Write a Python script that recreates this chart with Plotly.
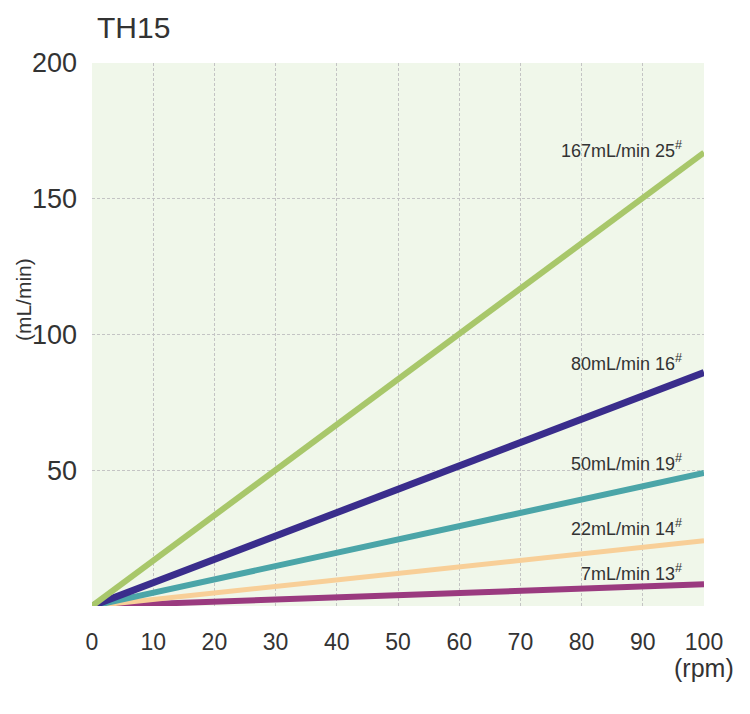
import plotly.graph_objects as go

# rpm on the x axis, flow at 100 rpm for each hose
rpm = [0, 100]
flow_end = [167, 86, 49, 24, 8]
labels = ['167mL/min 25', '80mL/min 16', '50mL/min 19', '22mL/min 14', '7mL/min 13']
colors = ['#a8c76a', '#3a2d8c', '#4ba5a8', '#f8cf98', '#9a3a7f']
widths = [6, 7, 6, 5, 6]
label_shift = [3, 10, 10, 13, 12]

x_ticks = list(range(0, 101, 10))
y_ticks = [0, 50, 100, 150, 200]

font_family = 'Liberation Sans Narrow, Liberation Sans, Arial, sans-serif'

fig = go.Figure()

# draw from the smallest so the bigger lines sit on top like the print
for i in reversed(range(len(flow_end))):
    fig.add_trace(go.Scatter(x=rpm, y=[0, flow_end[i]], mode='lines',
                             line=dict(color=colors[i], width=widths[i]),
                             showlegend=False, hoverinfo='skip'))

for i in range(len(flow_end)):
    fig.add_annotation(x=100, y=flow_end[i], text=labels[i] + '<sup>#</sup>',
                       xanchor='right', yanchor='middle', showarrow=False,
                       xshift=-20, yshift=label_shift[i],
                       font=dict(family=font_family, size=18, color='#333333'))

fig.add_annotation(x=100, y=0, text='(rpm)', xref='x', yref='y', xanchor='center',
                   yanchor='top', yshift=-46, showarrow=False,
                   font=dict(family=font_family, size=25, color='#333333'))
fig.add_annotation(x=-0.113, y=0.565, xref='paper', yref='paper', text='(mL/min)',
                   textangle=-90, showarrow=False, xanchor='center', yanchor='middle',
                   font=dict(family=font_family, size=21, color='#333333'))
fig.add_annotation(x=0.005, y=1.065, xref='paper', yref='paper', text='TH15',
                   xanchor='left', yanchor='middle', showarrow=False,
                   font=dict(family='Liberation Sans, Arial, sans-serif', size=30,
                             color='#333333'))

fig.update_layout(
    width=750, height=714,
    margin=dict(l=84, r=54, t=55, b=116, autoexpand=False),
    paper_bgcolor='white',
    plot_bgcolor='#f0f7ea',
    xaxis=dict(range=[0, 100], tickvals=x_ticks, showgrid=True, gridcolor='#c4c4c4',
               griddash='3px,2px', gridwidth=1, zeroline=False, showline=False,
               ticklabelstandoff=20, automargin=False,
               tickfont=dict(family=font_family, size=23, color='#333333')),
    yaxis=dict(range=[0, 200], tickvals=y_ticks, ticktext=['', '50', '100', '150', '200'],
               showgrid=True, gridcolor='#c4c4c4', griddash='3px,2px', gridwidth=1,
               zeroline=False, showline=False, ticklabelstandoff=14, automargin=False,
               tickfont=dict(family=font_family, size=27, color='#333333')),
)

fig.write_html("out.html")
